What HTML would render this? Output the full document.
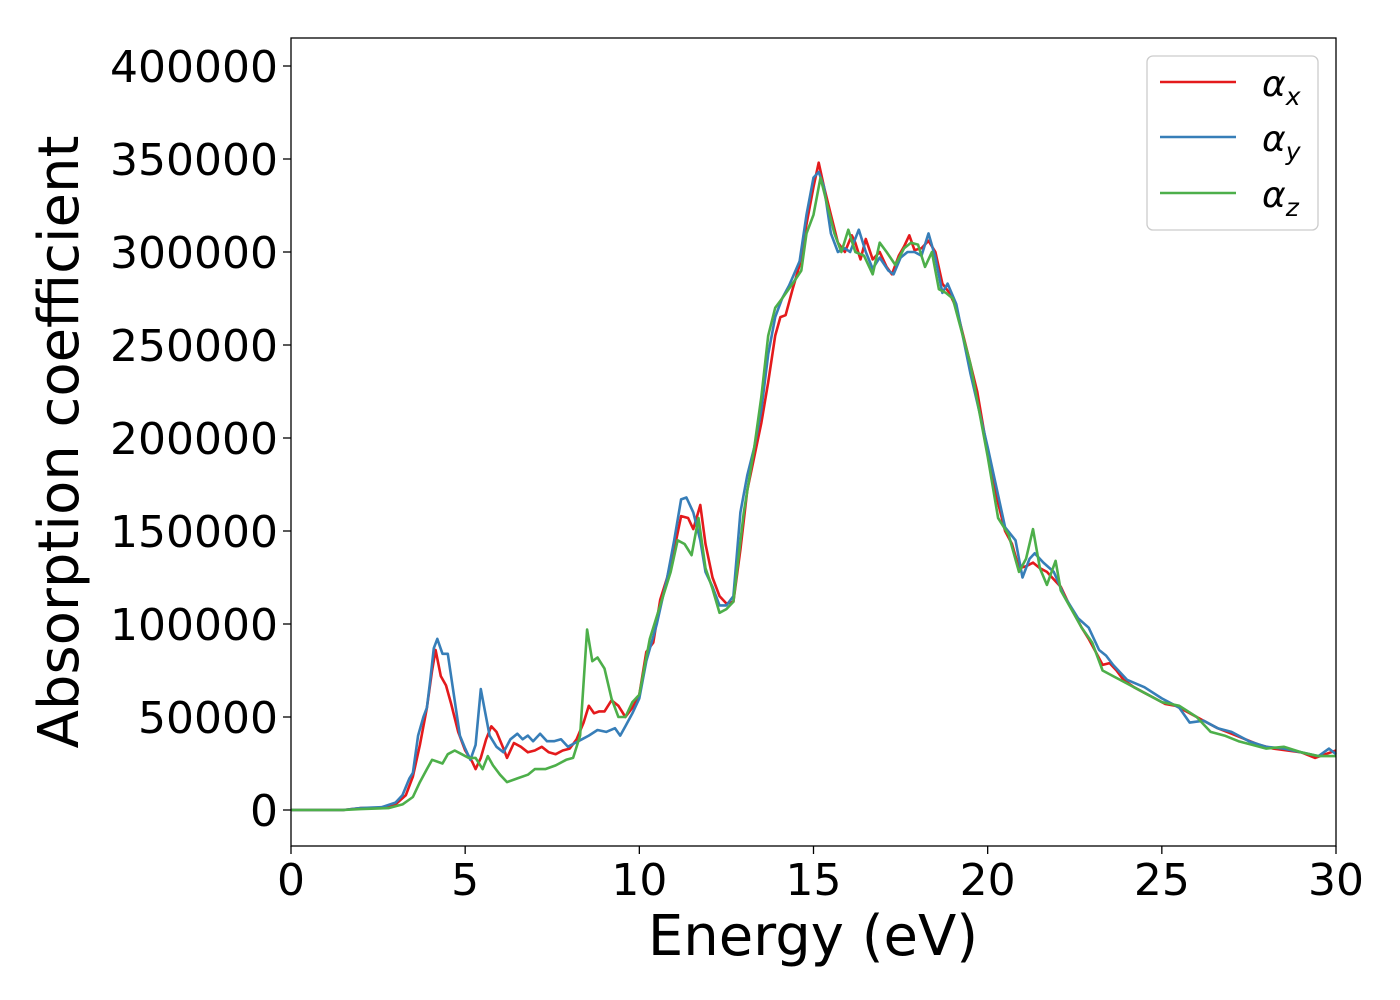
<!DOCTYPE html>
<html><head><meta charset="utf-8"><style>
html,body{margin:0;padding:0;background:#fff;}
svg{display:block;font-family:"DejaVu Sans","Liberation Sans",sans-serif;}
</style></head><body>
<svg id="chart" width="1400" height="1000" viewBox="0 0 1400 1000">
<rect x="0" y="0" width="1400" height="1000" fill="#fff"/>
<g id="series"></g>
<rect x="291" y="38" width="1045" height="808" fill="none" stroke="#000" stroke-width="1.3"/>
<g id="yticks"></g>
<g id="xticks"></g>
<text x="813" y="955" font-size="56" text-anchor="middle">Energy (eV)</text>
<text transform="translate(78,442) rotate(-90)" font-size="56" text-anchor="middle">Absorption coefficient</text>
<g>
<rect x="1147" y="56" width="171" height="174" rx="6" fill="#fff" stroke="#ccc" stroke-width="1.3"/>
<g><line x1="1160" y1="82" x2="1236" y2="82" stroke="#e41a1c" stroke-width="2.6"/><text x="1262" y="96" font-size="36" font-style="italic">α<tspan font-size="25" dy="9">x</tspan></text></g>
<g><line x1="1160" y1="137" x2="1236" y2="137" stroke="#377eb8" stroke-width="2.6"/><text x="1262" y="151" font-size="36" font-style="italic">α<tspan font-size="25" dy="9">y</tspan></text></g>
<g><line x1="1160" y1="193" x2="1236" y2="193" stroke="#4daf4a" stroke-width="2.6"/><text x="1262" y="207" font-size="36" font-style="italic">α<tspan font-size="25" dy="9">z</tspan></text></g>
</g>
</svg>
<script>
const xTicks=[0,5,10,15,20,25,30];
const yTicks=[0,50000,100000,150000,200000,250000,300000,350000,400000];
const redE=[0,1.5,2,2.5,3,3.3,3.5,3.7,3.9,4.05,4.15,4.3,4.45,4.6,4.8,5.0,5.2,5.3,5.45,5.6,5.75,5.9,6.1,6.2,6.4,6.6,6.8,7.0,7.2,7.4,7.6,7.8,8.0,8.2,8.4,8.55,8.7,8.85,9.0,9.2,9.4,9.6,9.8,10.0,10.2,10.4,10.6,10.8,11.0,11.2,11.4,11.55,11.75,11.9,12.1,12.3,12.5,12.7,12.9,13.1,13.3,13.5,13.7,13.9,14.05,14.2,14.4,14.6,14.8,15.0,15.15,15.3,15.5,15.7,15.9,16.1,16.2,16.35,16.5,16.7,16.9,17.1,17.25,17.45,17.6,17.75,17.9,18.1,18.3,18.5,18.7,18.9,19.1,19.3,19.5,19.7,19.9,20.1,20.3,20.5,20.7,20.9,21.1,21.3,21.5,21.7,21.9,22.1,22.3,22.5,22.7,22.9,23.1,23.3,23.5,23.7,23.9,24.2,24.5,24.8,25.1,25.4,25.7,26.0,26.3,26.6,27.0,27.4,27.8,28.2,28.6,29.0,29.4,29.7,30];
const redV=[0,0,1000,1000,3000,8000,18000,35000,55000,75000,86000,72000,67000,57000,42000,32000,26000,22000,28000,38000,45000,42000,33000,28000,36000,34000,31000,32000,34000,31000,30000,32000,33000,38000,47000,56000,52000,53000,53000,59000,56000,50000,55000,62000,85000,90000,113000,125000,140000,158000,157000,151000,164000,143000,125000,115000,111000,112000,140000,172000,190000,208000,230000,255000,265000,266000,280000,293000,315000,335000,348000,335000,320000,305000,300000,309000,305000,296000,307000,296000,300000,292000,288000,298000,303000,309000,301000,302000,306000,300000,283000,278000,270000,255000,240000,225000,203000,183000,165000,150000,143000,130000,131000,133000,130000,128000,124000,120000,112000,105000,98000,92000,85000,78000,79000,75000,70000,66000,63000,60000,57000,56000,53000,50000,47000,44000,41000,38000,35000,33000,32000,31000,28000,30000,32000];
const blueE=[0,1.5,2,2.6,3.0,3.2,3.4,3.5,3.65,3.8,3.9,4.0,4.1,4.2,4.35,4.5,4.65,4.85,5.0,5.15,5.3,5.45,5.55,5.7,5.9,6.1,6.3,6.5,6.65,6.8,6.95,7.15,7.35,7.55,7.75,7.95,8.15,8.35,8.55,8.8,9.05,9.3,9.45,9.6,9.8,10.0,10.2,10.5,10.8,11.0,11.2,11.35,11.55,11.75,11.9,12.1,12.3,12.5,12.7,12.9,13.1,13.3,13.5,13.7,13.9,14.1,14.3,14.6,14.8,15.0,15.15,15.3,15.5,15.7,15.9,16.05,16.3,16.5,16.7,16.9,17.15,17.3,17.5,17.7,17.9,18.1,18.3,18.5,18.7,18.85,19.1,19.5,20.0,20.5,20.8,21.0,21.2,21.35,21.6,21.9,22.2,22.6,22.9,23.2,23.4,23.6,24.0,24.5,25.0,25.5,25.8,26.2,26.6,27.0,27.5,28.0,28.5,29.0,29.5,29.8,30];
const blueV=[0,0,1000,1500,4000,8000,17000,20000,40000,50000,55000,70000,87000,92000,84000,84000,65000,40000,33000,27000,35000,65000,55000,40000,34000,31000,38000,41000,38000,40000,37000,41000,37000,37000,38000,34000,36000,38000,40000,43000,42000,44000,40000,45000,52000,60000,80000,100000,125000,145000,167000,168000,160000,145000,128000,120000,110000,110000,115000,160000,180000,195000,215000,245000,265000,275000,282000,295000,320000,340000,343000,335000,310000,300000,302000,300000,312000,300000,291000,297000,290000,288000,297000,300000,300000,298000,310000,297000,278000,283000,272000,235000,195000,152000,145000,125000,135000,138000,133000,128000,115000,103000,98000,86000,83000,78000,70000,66000,60000,55000,47000,48000,44000,42000,37000,34000,33000,31000,29000,33000,30000];
const greenE=[0,1.5,2,2.8,3.2,3.5,3.7,3.9,4.05,4.2,4.35,4.5,4.7,4.9,5.1,5.3,5.5,5.65,5.8,6.0,6.2,6.5,6.8,7.0,7.3,7.6,7.9,8.1,8.3,8.5,8.65,8.8,9.0,9.2,9.4,9.6,9.8,10.0,10.3,10.6,10.9,11.1,11.3,11.5,11.7,11.9,12.1,12.3,12.5,12.7,13.0,13.3,13.5,13.7,13.9,14.1,14.4,14.65,14.8,15.0,15.2,15.4,15.6,15.8,16.0,16.2,16.45,16.7,16.9,17.1,17.35,17.6,17.8,18.0,18.2,18.4,18.6,18.8,19.0,19.5,20.0,20.3,20.6,20.9,21.1,21.3,21.5,21.7,21.95,22.1,22.4,22.7,23.0,23.3,23.6,24.0,24.5,25.0,25.5,26.0,26.4,26.8,27.2,27.6,28.0,28.5,29.0,29.5,30];
const greenV=[0,0,500,1000,3000,7000,15000,22000,27000,26000,25000,30000,32000,30000,28000,28000,22000,29000,24000,19000,15000,17000,19000,22000,22000,24000,27000,28000,40000,97000,80000,82000,76000,60000,50000,50000,58000,62000,92000,110000,128000,145000,143000,137000,157000,130000,119000,106000,108000,112000,160000,195000,222000,255000,270000,275000,283000,290000,310000,320000,340000,325000,310000,300000,312000,300000,298000,288000,305000,300000,293000,302000,305000,304000,292000,300000,280000,278000,275000,240000,190000,157000,148000,128000,135000,151000,130000,121000,134000,118000,108000,98000,90000,75000,72000,68000,63000,58000,56000,50000,42000,40000,37000,35000,33000,34000,31000,29000,29000];

const NS='http://www.w3.org/2000/svg';
const X0=291,X1=1336,Y0=810,YPER=744/400000;
function sx(e){return X0+(e-0)*(X1-X0)/30;}
function sy(v){return Y0-v*YPER;}
const yg=document.getElementById('yticks'),xg=document.getElementById('xticks'),sg=document.getElementById('series');
yTicks.forEach(t=>{
 const l=document.createElementNS(NS,'line');
 l.setAttribute('x1',X0-8);l.setAttribute('x2',X0);l.setAttribute('y1',sy(t));l.setAttribute('y2',sy(t));l.setAttribute('stroke','#000');l.setAttribute('stroke-width','1.3');
 
 
 yg.appendChild(l);
 const tx=document.createElementNS(NS,'text');
 tx.setAttribute('x',X0-13);tx.setAttribute('y',sy(t)+16);tx.setAttribute('text-anchor','end');tx.setAttribute('font-size','44');
 tx.textContent=String(t);
 
 
 yg.appendChild(tx);
});
xTicks.forEach(t=>{
 const l=document.createElementNS(NS,'line');
 l.setAttribute('x1',sx(t));l.setAttribute('x2',sx(t));l.setAttribute('y1',846);l.setAttribute('y2',854);l.setAttribute('stroke','#000');l.setAttribute('stroke-width','1.3');
 
 
 xg.appendChild(l);
 const tx=document.createElementNS(NS,'text');
 tx.setAttribute('x',sx(t));tx.setAttribute('y',895);tx.setAttribute('text-anchor','middle');tx.setAttribute('font-size','44');
 tx.textContent=String(t);
 
 
 xg.appendChild(tx);
});
function draw(E,V,color,name){
 const p=document.createElementNS(NS,'polyline');
 p.setAttribute('points',E.map((e,i)=>sx(e).toFixed(1)+','+sy(V[i]).toFixed(1)).join(' '));
 p.setAttribute('fill','none');p.setAttribute('stroke',color);p.setAttribute('stroke-width','2.6');p.setAttribute('stroke-linejoin','round');
 
 
 sg.appendChild(p);
}
draw(redE,redV,'#e41a1c','alpha-x-line');
draw(blueE,blueV,'#377eb8','alpha-y-line');
draw(greenE,greenV,'#4daf4a','alpha-z-line');
</script>
</body></html>
